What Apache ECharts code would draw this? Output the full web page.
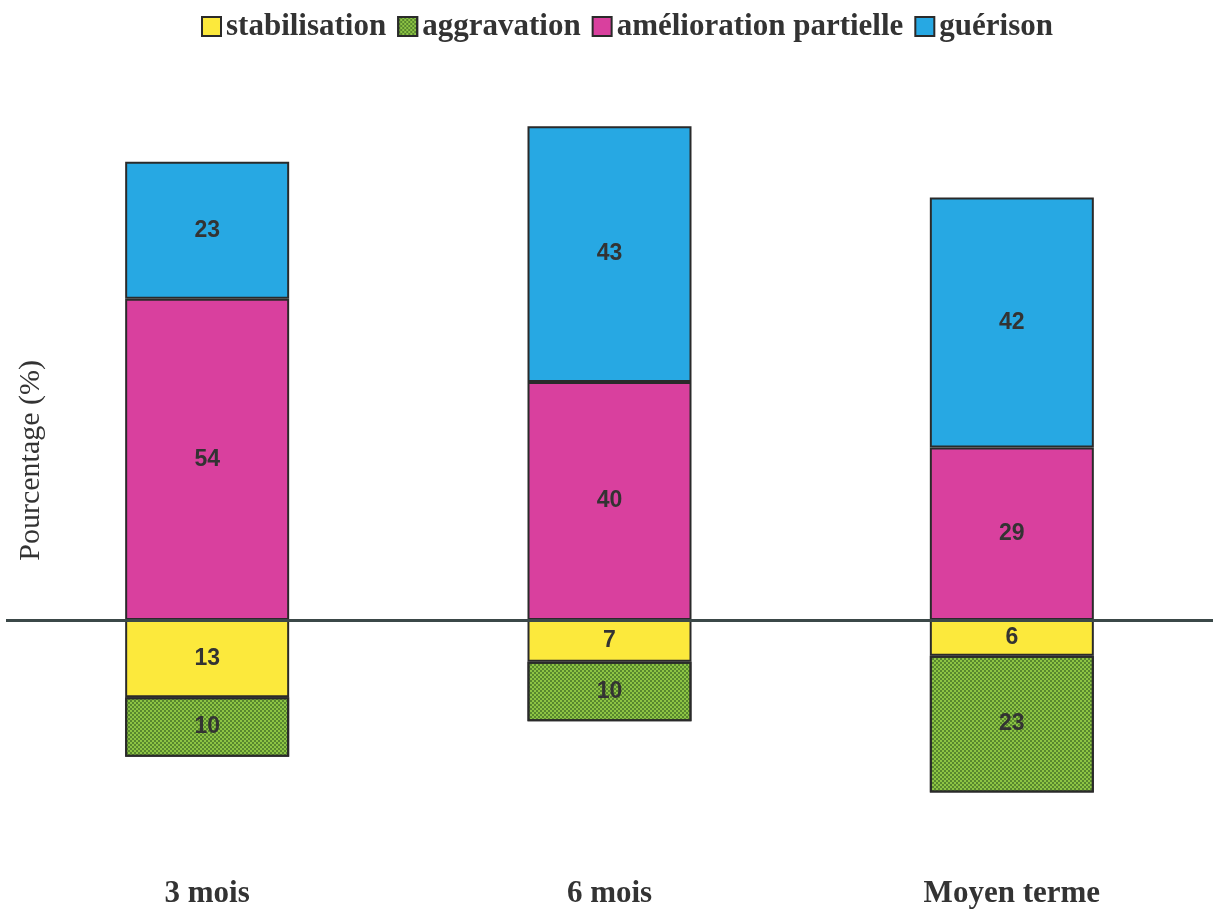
<!DOCTYPE html>
<html>
<head>
<meta charset="utf-8">
<script src="https://cdn.jsdelivr.net/npm/echarts@6/dist/echarts.min.js"></script>
<style>html,body{margin:0;padding:0;background:#fff}#c{width:1213px;height:912px}</style>
</head>
<body>
<div id="c"></div>
<script>
const categories = ['3 mois', '6 mois', 'Moyen terme'];
const stabilisation = [13, 7, 6];
const aggravation = [10, 10, 23];
const ameliorationPartielle = [54, 40, 29];
const guerison = [23, 43, 42];
const seriesNames = ['stabilisation', 'aggravation', 'amélioration partielle', 'guérison'];

const chart = echarts.init(document.getElementById('c'));
const labelCfg = {
  show: true, position: 'inside', color: '#333',
  fontFamily: 'Liberation Sans, Arial', fontWeight: 'bold', fontSize: 23,
  formatter: p => Math.abs(p.value)
};
const border = { borderColor: '#2a2a2a', borderWidth: 2 };
chart.setOption({
  backgroundColor: '#ffffff',
  animation: false,
  legend: {
    top: 6, left: 196,
    icon: 'rect', itemWidth: 19, itemHeight: 19, itemGap: 11,
    textStyle: { fontFamily: 'Liberation Serif, Times New Roman', fontWeight: 'bold', fontSize: 31, color: '#333' },
    data: seriesNames
  },
  grid: { left: 6, right: 0, top: 25, bottom: 54 },
  xAxis: {
    type: 'category', data: categories,
    axisLine: { show: false }, axisTick: { show: false },
    axisLabel: { margin: 20, fontFamily: 'Liberation Serif, Times New Roman', fontWeight: 'bold', fontSize: 31, color: '#333' }
  },
  yAxis: {
    type: 'value', min: -40, max: 100,
    axisLine: { show: false }, axisTick: { show: false }, axisLabel: { show: false },
    splitLine: { show: false }
  },
  graphic: [{
    type: 'text', left: 16, top: 360, rotation: Math.PI / 2,
    style: { text: 'Pourcentage (%)', font: '30px "Liberation Serif", serif', fill: '#333' }
  }],
  series: [
    { name: seriesNames[0], type: 'bar', stack: 'a', barWidth: 164,
      data: stabilisation.map(v => -v),
      itemStyle: Object.assign({ color: '#fce93c' }, border), label: labelCfg,
      markLine: { silent: true, symbol: 'none', label: { show: false },
        lineStyle: { color: '#3b4848', width: 3, type: 'solid' }, data: [{ yAxis: 0 }] } },
    { name: seriesNames[1], type: 'bar', stack: 'a', barWidth: 164,
      data: aggravation.map(v => -v),
      itemStyle: Object.assign({ color: '#8dc444',
        decal: { symbol: 'rect', symbolSize: 1, color: 'rgba(45,85,30,0.55)',
          dashArrayX: [[2, 2], [0, 2, 2, 0]], dashArrayY: [2, 0], rotation: 0 } }, border),
      label: labelCfg },
    { name: seriesNames[2], type: 'bar', stack: 'a', barWidth: 164,
      data: ameliorationPartielle,
      itemStyle: Object.assign({ color: '#d9409e' }, border), label: labelCfg },
    { name: seriesNames[3], type: 'bar', stack: 'a', barWidth: 164,
      data: guerison,
      itemStyle: Object.assign({ color: '#27a8e3' }, border), label: labelCfg }
  ]
});
</script>
</body>
</html>
